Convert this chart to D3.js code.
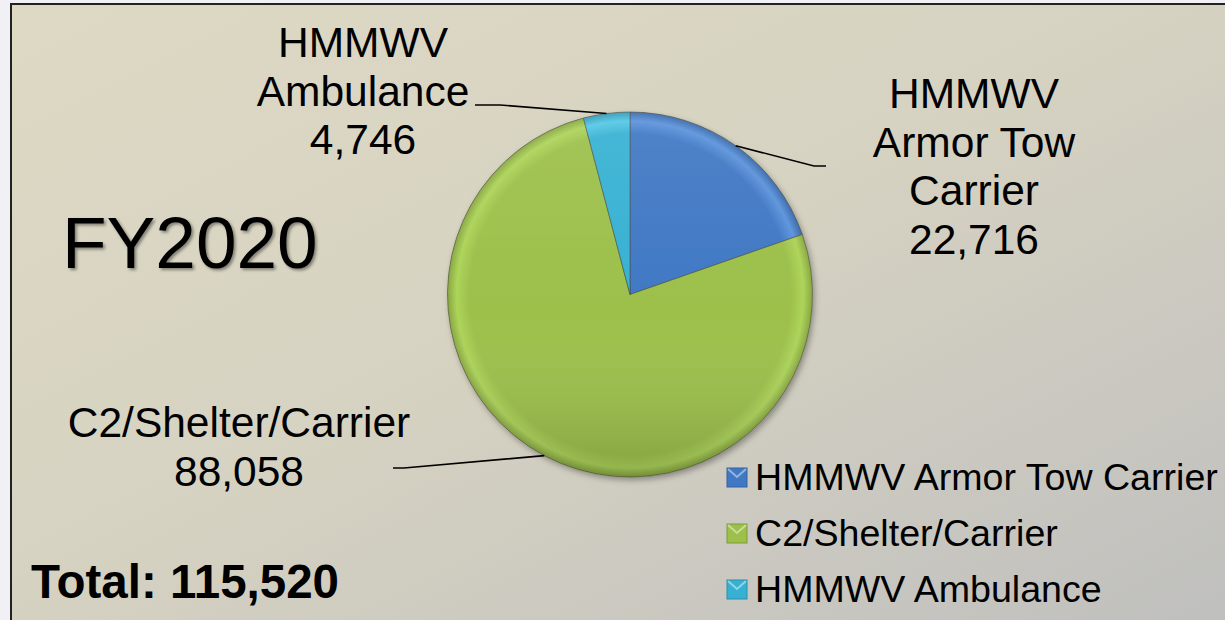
<!DOCTYPE html>
<html>
<head>
<meta charset="utf-8">
<script src="https://cdn.jsdelivr.net/npm/d3@7"></script>
<style>
  html, body { margin: 0; padding: 0; background: #f1f0f5; }
  svg { display: block; font-family: "Liberation Sans", Arial, sans-serif; }
</style>
</head>
<body>
<div id="chart"></div>
<script>
(function pieChart(){
const categories = ["HMMWV Armor Tow Carrier", "C2/Shelter/Carrier", "HMMWV Ambulance"];
const values = [22716, 88058, 4746];
const labelLines = [["HMMWV", "Armor Tow", "Carrier"], ["C2/Shelter/Carrier"], ["HMMWV", "Ambulance"]];
const colors = ["#4078c4", "#9cc04a", "#37b1d3"];
const rimColors = ["#5b93dc", "#add459", "#55c8e6"];
const title = "FY2020";
const total = d3.sum(values);

const width = 1225, height = 620;
const cx = 630, cy = 294.5, r = 182.5;

const svg = d3.select("#chart")
  .append("svg")
  .attr("width", width)
  .attr("height", height)
  .attr("viewBox", [0, 0, width, height]);

const defs = svg.append("defs");

// background gradient
const bg = defs.append("linearGradient")
  .attr("id", "bg")
  .attr("x1", 0).attr("y1", 0).attr("x2", 1).attr("y2", 1);
bg.append("stop").attr("offset", "0%").attr("stop-color", "#ddd9c4");
bg.append("stop").attr("offset", "45%").attr("stop-color", "#d7d3c2");
bg.append("stop").attr("offset", "100%").attr("stop-color", "#bfbfbe");

// slice gradients (bevel look)
colors.forEach((c, i) => {
  const g = defs.append("radialGradient")
    .attr("id", "slice" + i)
    .attr("gradientUnits", "userSpaceOnUse")
    .attr("cx", cx).attr("cy", cy).attr("r", r);
  g.append("stop").attr("offset", "0%").attr("stop-color", c);
  g.append("stop").attr("offset", "88%").attr("stop-color", c);
  g.append("stop").attr("offset", "95%").attr("stop-color", rimColors[i]);
  g.append("stop").attr("offset", "100%").attr("stop-color", d3.color(c).darker(0.4));
});

const shade = defs.append("linearGradient")
  .attr("id", "shade")
  .attr("x1", 0).attr("y1", 0).attr("x2", 0).attr("y2", 1);
shade.append("stop").attr("offset", "0%").attr("stop-color", "#fff").attr("stop-opacity", 0.08);
shade.append("stop").attr("offset", "55%").attr("stop-color", "#fff").attr("stop-opacity", 0);
shade.append("stop").attr("offset", "100%").attr("stop-color", "#000").attr("stop-opacity", 0.16);

const drop = defs.append("filter").attr("id", "drop")
  .attr("x", "-20%").attr("y", "-20%").attr("width", "140%").attr("height", "140%");
drop.append("feDropShadow").attr("dx", 2).attr("dy", 3).attr("stdDeviation", 3)
  .attr("flood-color", "#000").attr("flood-opacity", 0.35);

const tshadow = defs.append("filter").attr("id", "tshadow")
  .attr("x", "-10%").attr("y", "-20%").attr("width", "120%").attr("height", "140%");
tshadow.append("feDropShadow").attr("dx", 2).attr("dy", 2).attr("stdDeviation", 1.5)
  .attr("flood-color", "#000").attr("flood-opacity", 0.4);

// frame
svg.append("rect")
  .attr("x", 11).attr("y", 4)
  .attr("width", width).attr("height", height)
  .attr("fill", "url(#bg)")
  .attr("stroke", "#222")
  .attr("stroke-width", 2);

const pie = d3.pie().sort(null).value(d => d)(values);

const g = svg.append("g");

g.append("circle").attr("cx", cx).attr("cy", cy).attr("r", r)
  .attr("fill", "#888").attr("filter", "url(#drop)");

// slices drawn in absolute coords so the userSpace gradient lines up
g.selectAll("path.slice")
  .data(pie)
  .join("path")
  .attr("class", "slice")
  .attr("d", d => {
    const p = d3.path();
    const a0 = d.startAngle - Math.PI / 2, a1 = d.endAngle - Math.PI / 2;
    p.moveTo(cx, cy);
    p.lineTo(cx + r * Math.cos(a0), cy + r * Math.sin(a0));
    p.arc(cx, cy, r, a0, a1);
    p.closePath();
    return p.toString();
  })
  .attr("fill", (d, i) => `url(#slice${i})`)
  .attr("stroke", "#4a4a3a")
  .attr("stroke-opacity", 0.55)
  .attr("stroke-width", 1);

g.append("circle").attr("cx", cx).attr("cy", cy).attr("r", r).attr("fill", "url(#shade)");

// data labels with leader lines
const labelPos = [
  { x: 974, y: 108, lx: 826, ly: 166, kink: 814 },
  { x: 239, y: 437, lx: 393, ly: 468, kink: 404 },
  { x: 363, y: 57, lx: 475, ly: 105, kink: 500 }
];
const lineH = 48.5;
const fmt = d3.format(",");

pie.forEach((d, i) => {
  const mid = (d.startAngle + d.endAngle) / 2;
  const px = cx + r * Math.sin(mid), py = cy - r * Math.cos(mid);
  const L = labelPos[i];
  svg.append("path")
    .attr("d", `M${px},${py}L${L.kink},${L.ly}L${L.lx},${L.ly}`)
    .attr("fill", "none")
    .attr("stroke", "#000")
    .attr("stroke-width", 1.6);
  const t = svg.append("text")
    .attr("text-anchor", "middle")
    .attr("font-size", 42.5)
    .attr("fill", "#000");
  labelLines[i].concat([fmt(values[i])]).forEach((s, k) => {
    t.append("tspan").attr("x", L.x).attr("y", L.y + k * lineH).text(s);
  });
});

// title and total
svg.append("text")
  .attr("x", 62).attr("y", 268)
  .attr("font-size", 73)
  .attr("fill", "#000")
  .attr("filter", "url(#tshadow)")
  .text(title);

svg.append("text")
  .attr("x", 31).attr("y", 598)
  .attr("font-size", 47.5)
  .attr("font-weight", "bold")
  .attr("fill", "#000")
  .text("Total: " + fmt(total));

// legend
const legend = svg.append("g").attr("transform", "translate(727,490)");
const row = legend.selectAll("g")
  .data(categories)
  .join("g")
  .attr("transform", (d, i) => `translate(0,${i * 56})`);
row.append("rect")
  .attr("x", 0).attr("y", -22)
  .attr("width", 20).attr("height", 19)
  .attr("fill", (d, i) => colors[i])
  .attr("stroke", (d, i) => d3.color(colors[i]).darker(0.6))
  .attr("stroke-width", 1);
row.append("path")
  .attr("d", "M1,-21L10,-13L19,-21")
  .attr("fill", "none")
  .attr("stroke", "#fff")
  .attr("stroke-opacity", 0.45)
  .attr("stroke-width", 2);
row.append("text")
  .attr("x", 28).attr("y", 0)
  .attr("font-size", 37.6)
  .attr("fill", "#000")
  .text(d => d);
})();
</script>
</body>
</html>
